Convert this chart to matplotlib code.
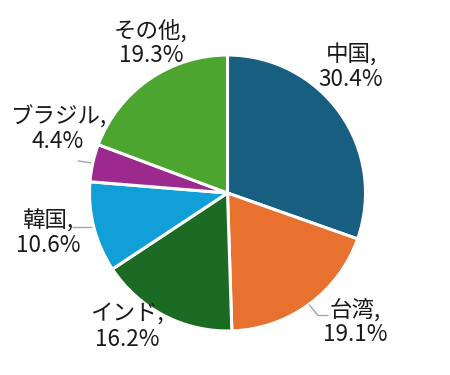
import numpy as np
import matplotlib
matplotlib.use("Agg")
import matplotlib.pyplot as plt

plt.rcParams['font.family'] = ['Noto Sans CJK JP', 'DejaVu Sans']

categories = ["中国", "台湾", "インド", "韓国", "ブラジル", "その他"]
values = [30.4, 19.1, 16.2, 10.6, 4.4, 19.3]
colors = ["#175e80", "#e87130", "#1b6b24", "#10a0d7", "#9c2a8e", "#4ba52f"]

# label anchor positions (data units, pie radius = 1)
label_pos = [(0.895, 0.913), (0.924, -0.935), (-0.728, -0.971),
             (-1.301, -0.290), (-1.228, 0.464), (-0.554, 1.087)]
leaders = {1: "diag", 3: "horiz", 4: "left"}

W, H, R = 450, 375, 138.0
cx, cy = 227.5, 193.0
fig = plt.figure(figsize=(W / 100, H / 100), dpi=100)
ax = fig.add_axes([0, 0, 1, 1])

ax.pie(values, colors=colors, startangle=90, counterclock=False, radius=1.0,
       wedgeprops=dict(edgecolor='white', linewidth=2.2))
ax.set_xlim(-cx / R, (W - cx) / R)
ax.set_ylim(-(H - cy) / R, cy / R)
ax.set_aspect('equal', adjustable='datalim')
ax.axis('off')

cum = np.cumsum([0] + values[:-1])
for i, (cat, v) in enumerate(zip(categories, values)):
    x, y = label_pos[i]
    ax.text(x, y, f"{cat},\n{v:.1f}%", ha='center', va='center',
            fontsize=16.2, color='#1a1a1a', linespacing=1.1)
    mid = np.deg2rad((cum[i] + v / 2) / 100 * 360)
    sx, sy = np.sin(mid), np.cos(mid)
    if i in leaders:
        kind = leaders[i]
        if kind == "diag":
            px = [sx, sx * 1.11, sx * 1.11 + 0.075]
            py = [sy, sy * 1.10, sy * 1.10]
        elif kind == "horiz":
            px = [sx - 0.01, sx - 0.16]
            py = [sy, sy]
        else:
            px = [sx - 0.01, sx - 0.11]
            py = [sy, sy + 0.015]
        ax.plot(px, py, color='#a6a6a6', lw=1.0, solid_capstyle='butt')

fig.savefig("out.png", dpi=100, facecolor='white')
